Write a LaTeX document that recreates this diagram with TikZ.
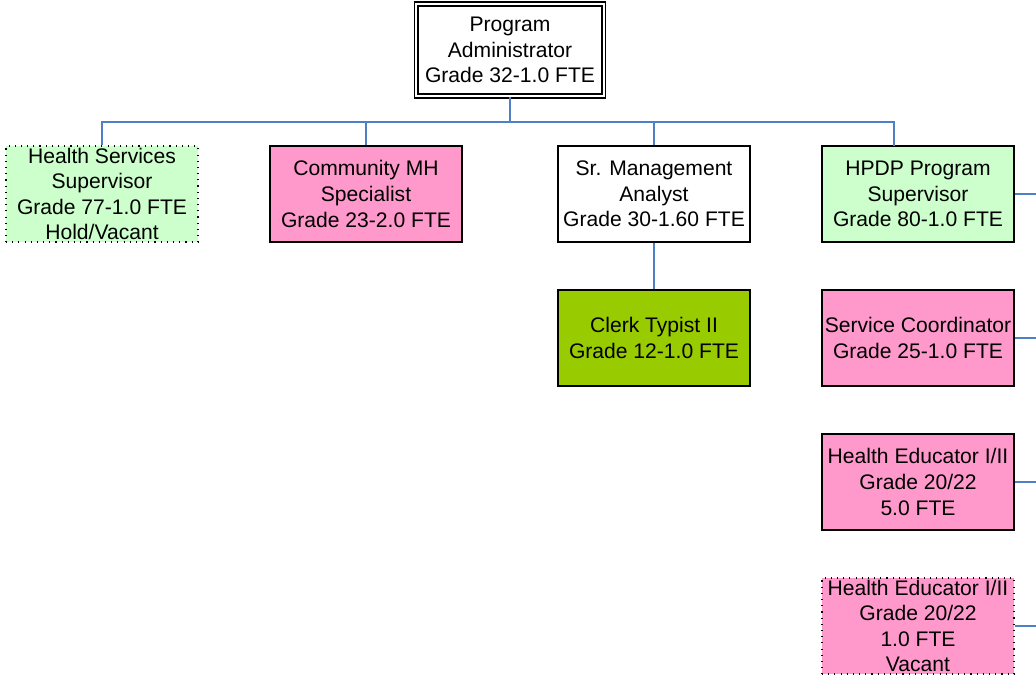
\documentclass[tikz,border=0pt]{standalone}
\usepackage{fontspec}
\setmainfont{Liberation Sans}
\definecolor{linkblue}{HTML}{4F7FC4}
\definecolor{postgreen}{HTML}{CCFFCC}
\definecolor{postpink}{HTML}{FF99CC}
\definecolor{clerkgreen}{HTML}{99CC00}
\begin{document}
\begin{tikzpicture}[x=0.025cm, y=-0.025cm,
  post/.style={draw, line width=0.9pt, minimum width=4.8cm, minimum height=2.4cm,
    inner sep=0pt, align=center, font=\fontsize{15}{18.2}\selectfont},
  vacant/.style={post, dash pattern=on 0.8pt off 3.6pt, line width=0.8pt},
  link/.style={draw=linkblue, line width=1pt}]
  \useasboundingbox (0,0) rectangle (1036,678);

  \node[post, double, double distance=1.4pt, line width=1.1pt,
    minimum width=4.68cm, minimum height=2.3cm] (admin) at (510,50)
    {Program\\Administrator\\Grade 32-1.0 FTE};

  \node[vacant, fill=postgreen] (hss) at (102,194) {Health Services\\Supervisor\\Grade 77-1.0 FTE\\Hold/Vacant};
  \node[post, fill=postpink] (cmh) at (366,194) {Community MH\\Specialist\\Grade 23-2.0 FTE};
  \node[post, fill=white] (sma) at (654,194) {Sr. Management\\Analyst\\Grade 30-1.60 FTE};
  \node[post, fill=postgreen] (hpdp) at (918,194) {HPDP Program\\Supervisor\\Grade 80-1.0 FTE};

  \node[post, fill=clerkgreen] (clerk) at (654,338) {Clerk Typist II\\Grade 12-1.0 FTE};
  \node[post, fill=postpink] (svc) at (918,338) {Service Coordinator\\Grade 25-1.0 FTE};
  \node[post, fill=postpink] (hed) at (918,482) {Health Educator I/II\\Grade 20/22\\5.0 FTE};
  \node[vacant, fill=postpink] (hedv) at (918,626) {Health Educator I/II\\Grade 20/22\\1.0 FTE\\Vacant};

  % bus under the administrator
  \coordinate (bus) at (510,122);
  \coordinate (hpdptop) at (894,146);
  \coordinate (edge) at (1036,0);

  \draw[link] (admin.south) -- (bus);
  \draw[link] (bus) -| (hss.north);
  \draw[link] (bus) -| (cmh.north);
  \draw[link] (bus) -| (sma.north);
  \draw[link] (bus) -| (hpdptop);
  \draw[link] (sma.south) -- (clerk.north);

  % stubs leaving the page on the right
  \draw[link] (hpdp.east) -- (hpdp.east -| edge);
  \draw[link] (svc.east) -- (svc.east -| edge);
  \draw[link] (hed.east) -- (hed.east -| edge);
  \draw[link] (hedv.east) -- (hedv.east -| edge);
\end{tikzpicture}
\end{document}
